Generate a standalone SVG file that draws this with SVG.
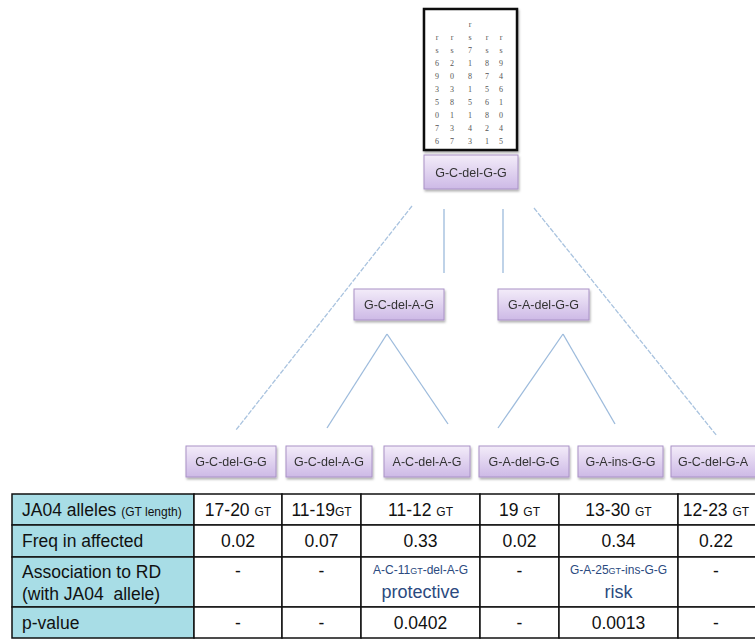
<svg xmlns="http://www.w3.org/2000/svg" width="755" height="640" viewBox="0 0 755 640">
<style>
.node rect{fill:url(#ng);stroke:#a992c6;stroke-width:1}
.node text{font-family:"Liberation Sans",Arial,sans-serif;font-size:12.5px;fill:#333;text-anchor:middle}
.conn line{stroke:#9dbbdc;stroke-width:1.3;fill:none}
.conn line.long{stroke:#a9c3df;stroke-dasharray:5 1.5}
.snp text{font-family:"Liberation Serif",serif;font-size:8px;fill:#555;text-anchor:middle}
.tbl text{font-family:"Liberation Sans",Arial,sans-serif;font-size:17.5px;fill:#111}
.tbl .c{text-anchor:middle}
.tbl .sm{font-size:12px}
.tbl .blue{fill:#2b4a80}
.tbl .bs{font-size:12px}
.tbl .bl{font-size:18px}
.tbl .gt{font-size:9px}
.cell{fill:#fff;stroke:#111;stroke-width:1.5}
.lab{fill:#a8dde6;stroke:#111;stroke-width:1.5}
</style>
<defs>
<linearGradient id="ng" x1="0" y1="0" x2="0" y2="1">
<stop offset="0" stop-color="#f3ecf9"/>
<stop offset="1" stop-color="#cdb9e6"/>
</linearGradient>
<filter id="sh" x="-10%" y="-10%" width="130%" height="140%">
<feDropShadow dx="1" dy="2" stdDeviation="1.2" flood-color="#000" flood-opacity="0.3"/>
</filter>
</defs>
<rect width="755" height="640" fill="#fff"/>

<g id="snp-box" class="snp">
<rect x="424" y="9" width="93" height="141" fill="#fff" stroke="#111" stroke-width="2.5" filter="url(#sh)"/>
<text x="470" y="27">r</text>
<text x="437" y="40">r</text><text x="452" y="40">r</text><text x="470" y="40">s</text><text x="487" y="40">r</text><text x="501" y="40">r</text>
<text x="437" y="53">s</text><text x="452" y="53">s</text><text x="470" y="53">7</text><text x="487" y="53">s</text><text x="501" y="53">s</text>
<text x="437" y="66">6</text><text x="452" y="66">2</text><text x="470" y="66">1</text><text x="487" y="66">8</text><text x="501" y="66">9</text>
<text x="437" y="79">9</text><text x="452" y="79">0</text><text x="470" y="79">8</text><text x="487" y="79">7</text><text x="501" y="79">4</text>
<text x="437" y="92">3</text><text x="452" y="92">3</text><text x="470" y="92">1</text><text x="487" y="92">5</text><text x="501" y="92">6</text>
<text x="437" y="105">5</text><text x="452" y="105">8</text><text x="470" y="105">5</text><text x="487" y="105">6</text><text x="501" y="105">1</text>
<text x="437" y="118">0</text><text x="452" y="118">1</text><text x="470" y="118">1</text><text x="487" y="118">8</text><text x="501" y="118">0</text>
<text x="437" y="131">7</text><text x="452" y="131">3</text><text x="470" y="131">4</text><text x="487" y="131">2</text><text x="501" y="131">4</text>
<text x="437" y="144">6</text><text x="452" y="144">7</text><text x="470" y="144">3</text><text x="487" y="144">1</text><text x="501" y="144">5</text>
</g>

<g class="conn" id="connectors">
<line class="long" x1="412" y1="206" x2="236" y2="430"/>
<line x1="444" y1="209" x2="444" y2="273"/>
<line x1="503" y1="209" x2="503" y2="273"/>
<line class="long" x1="534" y1="208" x2="717" y2="436"/>
<line x1="387" y1="334" x2="327" y2="428"/>
<line x1="387" y1="334" x2="448" y2="424"/>
<line x1="563" y1="334" x2="498" y2="428"/>
<line x1="563" y1="334" x2="615" y2="424"/>
</g>

<g id="n-top" class="node" filter="url(#sh)"><rect x="424" y="155" width="94" height="34"/><text x="471" y="176.5">G-C-del-G-G</text></g>
<g id="n-mid1" class="node" filter="url(#sh)"><rect x="354" y="289" width="90" height="31"/><text x="399" y="309">G-C-del-A-G</text></g>
<g id="n-mid2" class="node" filter="url(#sh)"><rect x="498" y="289" width="91" height="31"/><text x="543.5" y="309">G-A-del-G-G</text></g>
<g id="n-b1" class="node" filter="url(#sh)"><rect x="186" y="446" width="90" height="31"/><text x="231" y="466">G-C-del-G-G</text></g>
<g id="n-b2" class="node" filter="url(#sh)"><rect x="286" y="446" width="86" height="31"/><text x="329" y="466">G-C-del-A-G</text></g>
<g id="n-b3" class="node" filter="url(#sh)"><rect x="384" y="446" width="86" height="31"/><text x="427" y="466">A-C-del-A-G</text></g>
<g id="n-b4" class="node" filter="url(#sh)"><rect x="479" y="446" width="90" height="31"/><text x="524" y="466">G-A-del-G-G</text></g>
<g id="n-b5" class="node" filter="url(#sh)"><rect x="578" y="446" width="85" height="31"/><text x="620.5" y="466">G-A-ins-G-G</text></g>
<g id="n-b6" class="node" filter="url(#sh)"><rect x="671" y="446" width="86" height="31"/><text x="713" y="466">G-C-del-G-A</text></g>

<g id="table" class="tbl">
<rect class="lab" x="12" y="494" width="182" height="31"/>
<rect class="lab" x="12" y="525" width="182" height="32"/>
<rect class="lab" x="12" y="557" width="182" height="50"/>
<rect class="lab" x="12" y="607" width="182" height="31"/>
<rect class="cell" x="194" y="494" width="88" height="31"/><rect class="cell" x="282" y="494" width="79" height="31"/><rect class="cell" x="361" y="494" width="119" height="31"/><rect class="cell" x="480" y="494" width="79" height="31"/><rect class="cell" x="559" y="494" width="119" height="31"/><rect class="cell" x="678" y="494" width="90" height="31"/>
<rect class="cell" x="194" y="525" width="88" height="32"/><rect class="cell" x="282" y="525" width="79" height="32"/><rect class="cell" x="361" y="525" width="119" height="32"/><rect class="cell" x="480" y="525" width="79" height="32"/><rect class="cell" x="559" y="525" width="119" height="32"/><rect class="cell" x="678" y="525" width="90" height="32"/>
<rect class="cell" x="194" y="557" width="88" height="50"/><rect class="cell" x="282" y="557" width="79" height="50"/><rect class="cell" x="361" y="557" width="119" height="50"/><rect class="cell" x="480" y="557" width="79" height="50"/><rect class="cell" x="559" y="557" width="119" height="50"/><rect class="cell" x="678" y="557" width="90" height="50"/>
<rect class="cell" x="194" y="607" width="88" height="31"/><rect class="cell" x="282" y="607" width="79" height="31"/><rect class="cell" x="361" y="607" width="119" height="31"/><rect class="cell" x="480" y="607" width="79" height="31"/><rect class="cell" x="559" y="607" width="119" height="31"/><rect class="cell" x="678" y="607" width="90" height="31"/>

<text x="22" y="516">JA04 alleles <tspan class="sm">(GT length)</tspan></text>
<text x="22" y="547">Freq in affected</text>
<text x="22" y="578">Association to RD</text>
<text x="22" y="600">(with JA04&#160; allele)</text>
<text x="22" y="629">p-value</text>

<text class="c" x="238" y="516">17-20 <tspan class="sm">GT</tspan></text>
<text class="c" x="321.5" y="516">11-19<tspan class="sm">GT</tspan></text>
<text class="c" x="420.5" y="516">11-12 <tspan class="sm">GT</tspan></text>
<text class="c" x="519.5" y="516">19 <tspan class="sm">GT</tspan></text>
<text class="c" x="618.5" y="516">13-30 <tspan class="sm">GT</tspan></text>
<text class="c" x="716" y="516">12-23 <tspan class="sm">GT</tspan></text>

<text class="c" x="238" y="547">0.02</text>
<text class="c" x="321.5" y="547">0.07</text>
<text class="c" x="420.5" y="547">0.33</text>
<text class="c" x="519.5" y="547">0.02</text>
<text class="c" x="618.5" y="547">0.34</text>
<text class="c" x="716" y="547">0.22</text>

<text class="c" x="238" y="577">-</text>
<text class="c" x="321.5" y="577">-</text>
<text class="c blue bs" x="420.5" y="574">A-C-11<tspan class="gt">GT</tspan>-del-A-G</text>
<text class="c blue bl" x="420.5" y="598">protective</text>
<text class="c" x="519.5" y="577">-</text>
<text class="c blue bs" x="618.5" y="574">G-A-25<tspan class="gt">GT</tspan>-ins-G-G</text>
<text class="c blue bl" x="618.5" y="598">risk</text>
<text class="c" x="716" y="577">-</text>

<text class="c" x="238" y="629">-</text>
<text class="c" x="321.5" y="629">-</text>
<text class="c" x="420.5" y="629">0.0402</text>
<text class="c" x="519.5" y="629">-</text>
<text class="c" x="618.5" y="629">0.0013</text>
<text class="c" x="716" y="629">-</text>
</g>
</svg>
